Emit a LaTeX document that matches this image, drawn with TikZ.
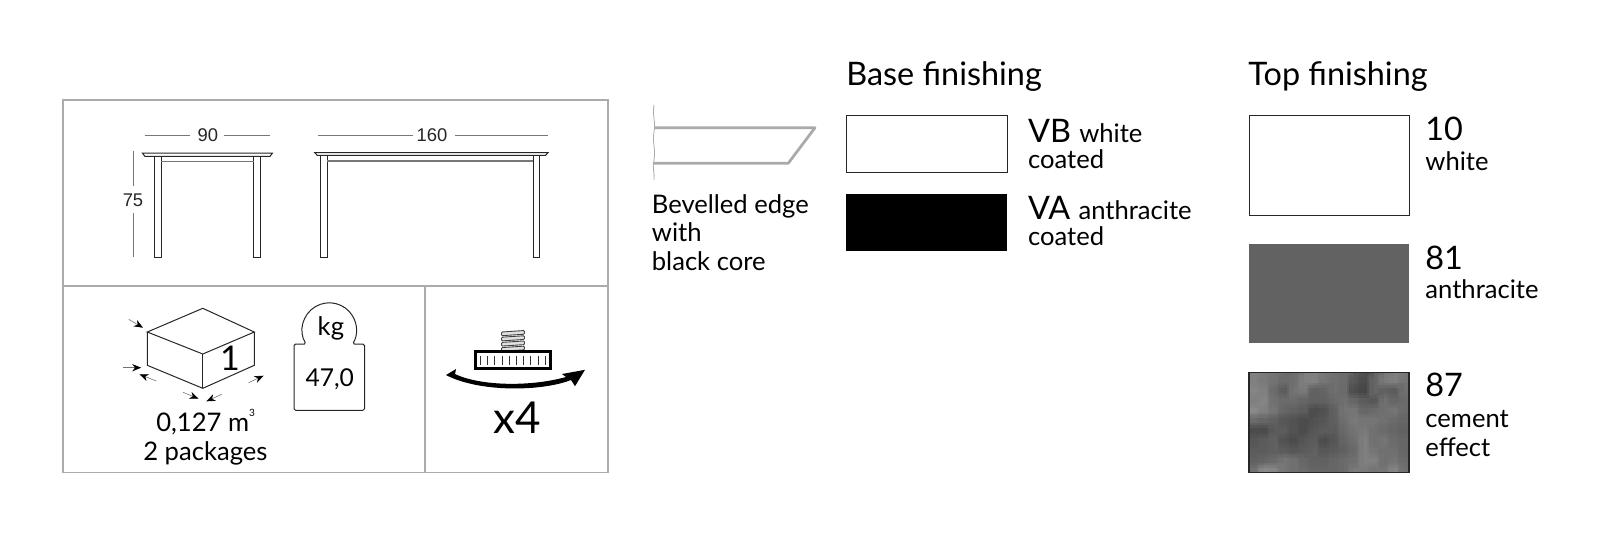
\documentclass[tikz,border=0pt]{standalone}
\usepackage{fontspec}
\setmainfont{Lato}
\newfontfamily\dimfont{Liberation Sans}
\usetikzlibrary{arrows.meta}
\definecolor{framegray}{HTML}{ABABAB}
\definecolor{dimgray}{HTML}{777777}
\definecolor{bevelgray}{HTML}{AAAAAA}
\definecolor{anthracite}{HTML}{636262}
\tikzset{
  framebox/.style={draw=framegray,line width=0.6pt},
  dimline/.style={draw=dimgray,line width=0.4pt},
  dimtext/.style={anchor=base,font=\dimfont\fontsize{9.2}{10}\selectfont,text=black!85,inner sep=0pt},
  tableline/.style={draw=black!85,line width=0.5pt},
  midtext/.style={anchor=base,font=\fontsize{12.8}{15}\selectfont,inner sep=0pt},
  lefttext/.style={anchor=base west,font=\fontsize{12.8}{15}\selectfont,inner sep=0pt},
  bigtext/.style={anchor=base west,font=\fontsize{16.2}{18}\selectfont,inner sep=0pt},
  swatch/.style={draw=black!85,line width=0.45pt},
  packarrow/.style={-{Stealth[length=4.5pt,width=3.6pt,black]},draw=black!55,line width=0.3pt},
}
\begin{document}
\begin{tikzpicture}[x=0.5pt,y=-0.5pt]
\useasboundingbox (0,0) rectangle (1600,548);

% frame
\draw[framebox] (63,100) rectangle (608,472.5);
\draw[framebox] (63,286) -- (608,286);
\draw[framebox] (425,286) -- (425,472.5);

% short table
\draw[tableline,fill=white] (142.3,153) -- (272.5,153) -- (270,156.4) -- (145,156.4) -- cycle;
\draw[tableline] (154.5,156.4) rectangle (161,257.3);
\draw[tableline] (253.6,156.4) rectangle (260,257.3);
\draw[dimline,line width=0.8pt] (161,161.3) -- (253.6,161.3);
\draw[dimline] (144.5,135) -- (189.5,135);
\draw[dimline] (223.5,135) -- (270,135);
\node[dimtext] (width90) at (207.8,141.6) {90};
\draw[dimline] (133,150.7) -- (133,186);
\draw[dimline] (133,213.3) -- (133,256.7);
\node[dimtext] (height75) at (133,206) {75};

% long table
\draw[tableline,fill=white] (314.8,152.7) -- (548,152.7) -- (545.5,155.4) -- (317.3,155.4) -- cycle;
\draw[tableline] (320.9,155.4) rectangle (327.3,257.3);
\draw[tableline] (533,155.4) rectangle (539.5,257.3);
\draw[dimline,line width=0.8pt] (327.3,160.7) -- (533,160.7);
\draw[dimline] (317.6,135) -- (413,135);
\draw[dimline] (455.4,135) -- (548,135);
\node[dimtext] (width160) at (432,141.6) {160};

% package
\draw[tableline] (202.8,308.3) -- (254.3,332) -- (202.8,354) -- (147.3,332) -- cycle;
\draw[tableline] (147.3,332) -- (147.3,365.3) -- (202.8,388.3) -- (254.3,365.3) -- (254.3,332);
\draw[tableline] (202.8,354) -- (202.8,388.3);
\node[midtext,font=\fontsize{17}{17}\selectfont] (packcount) at (230,370.5) {1};
\draw[packarrow] (128.7,319.3) -- (143,327.7);
\draw[packarrow] (123.3,367.7) -- (141.2,367.7);
\draw[packarrow] (156.3,381) -- (139.5,374.3);
\draw[packarrow] (183.1,392.3) -- (198.5,398.7);
\draw[packarrow] (221.7,394.3) -- (206.4,401.3);
\draw[packarrow] (248.6,382.7) -- (263.6,375.7);
\node[midtext] (volume) at (205.6,431.5) {0,127 m\raisebox{1.15ex}{\fontsize{5}{5}\selectfont 3}};
\node[midtext] (packages) at (205.4,460) {2 packages};

% weight
\draw[tableline,rounded corners=0.8pt] (294,344) -- (306,344) arc[start angle=211,end angle=-31,radius=13.6pt] -- (364.5,344) -- (364.5,410.3) -- (294,410.3) -- cycle;
\node[midtext] (kg) at (330.9,335) {kg};
\node[midtext,font=\fontsize{12.3}{15}\selectfont] (weight) at (329.8,386.7) {47,0};

% screw
\foreach \y in {330.5,335.7,340.9,346.1}
  \draw[draw=black!75,fill=black!12,line width=0.45pt,rounded corners=0.5pt] (501.5,\y+1.5) -- (524.5,\y) -- (524.5,\y+3.7) -- (501.5,\y+5.2) -- cycle;
\draw[black,line width=1.1pt,fill=white] (475.5,351.5) rectangle (550.5,368.5);
\foreach \x in {480.5,487.7,494.9,502.1,509.3,516.5,523.7,530.9,538.1,545.3}
  \draw[black!80,line width=0.5pt] (\x,355.7) -- (\x,365);
\fill[black] (446,375) -- (456,369) -- (455,374) .. controls (480,386) and (530,387) .. (566,377) -- (562,374) -- (585,369.8) -- (575,386.2) -- (571,380) .. controls (540,392) and (478,392) .. (446,375) -- cycle;
\node[midtext,font=\fontsize{22}{24}\selectfont] (turns) at (517.3,433.5) {x4};

% bevelled edge
\draw[draw=bevelgray,line width=1.4pt,line join=round] (654,127.7) -- (815,127.7) -- (788.2,163.3) -- (654,163.3);
\draw[draw=bevelgray,line width=0.4pt] (654,105) .. controls (652,115) and (656,122) .. (654,132) .. controls (652,142) and (656,150) .. (654,160) .. controls (652,168) and (655,174) .. (654,180);
\node[lefttext] (bevelA) at (651.5,213.3) {Bevelled edge};
\node[lefttext] (bevelB) at (651.5,241.7) {with};
\node[lefttext] (bevelC) at (651.5,270) {black core};

% base finishing
\node[bigtext] (basetitle) at (846,85.7) {Base finishing};
\draw[swatch] (846.5,115) rectangle (1007.2,172.3);
\fill[black] (845.5,193.5) rectangle (1007.2,251);
\node[bigtext] (vb) at (1027.7,142) {VB \fontsize{12.8}{14}\selectfont white};
\node[lefttext] (vbcoat) at (1027.7,168) {coated};
\node[bigtext] (va) at (1027.7,219.2) {VA \fontsize{12.8}{14}\selectfont anthracite};
\node[lefttext] (vacoat) at (1027.7,245.5) {coated};

% top finishing
\node[bigtext] (toptitle) at (1248,85.7) {Top finishing};
\draw[swatch] (1249,115.3) rectangle (1409,215.3);
\fill[anthracite] (1248.5,244) rectangle (1408.5,343);
\begin{scope}
\clip (1249,372.7) rectangle (1409,472.7);
\foreach \dx/\dy/\op/\ov in {0/0/1/0.5,5/0/0.5/0,0/5/0.5/0,-2.5/2.5/0.33/0}
  \foreach \row [count=\j from 0] in {
    {50,48,45,42,44,50,50,46,44,42,34,30,40,48,50,46},
    {52,50,42,36,46,48,38,40,44,42,30,28,40,38,36,44},
    {50,52,44,42,42,40,38,38,42,44,40,36,34,44,40,42},
    {54,50,46,40,38,36,30,32,38,46,46,40,42,44,46,42},
    {42,40,38,34,32,30,32,34,38,44,48,46,46,44,42,40},
    {30,30,36,36,32,30,34,36,36,42,46,48,44,42,40,38},
    {34,36,38,32,30,34,36,30,34,40,44,50,44,46,42,40},
    {36,36,38,36,34,36,38,34,36,38,42,50,46,44,44,40},
    {38,40,42,46,44,40,38,38,40,42,44,50,50,44,46,42},
    {44,54,52,46,44,42,40,40,40,42,48,48,46,46,52,44}}
    \foreach \g [count=\i from 0] in \row
      \fill[white!\g!black,fill opacity=\op] (1249+\dx+\i*10,372.7+\dy+\j*10) rectangle (1259+\ov+\dx+\i*10,382.7+\ov+\dy+\j*10);
\end{scope}
\draw[draw=black!85,line width=0.6pt] (1249,372.7) rectangle (1409,472.7);
\node[bigtext] (topA) at (1425,140.8) {10};
\node[lefttext] (topAname) at (1425,170.4) {white};
\node[bigtext] (topB) at (1425,269) {81};
\node[lefttext] (topBname) at (1425,298.7) {anthracite};
\node[bigtext] (topC) at (1425,396.7) {87};
\node[lefttext] (topCnameA) at (1425,427.7) {cement};
\node[lefttext] (topCnameB) at (1425,456) {effect};
\end{tikzpicture}
\end{document}
